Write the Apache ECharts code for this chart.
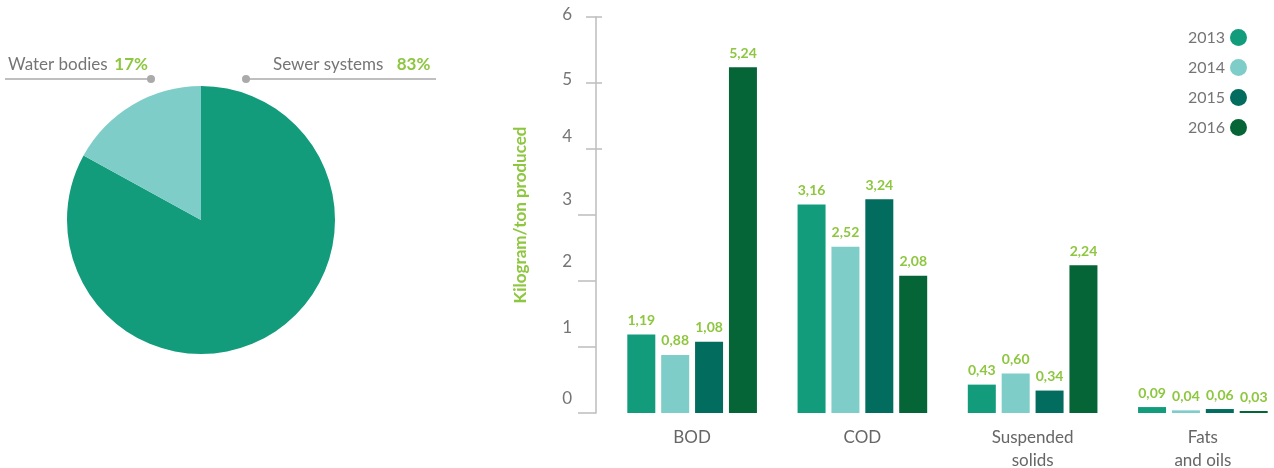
<!DOCTYPE html>
<html>
<head>
<meta charset="utf-8">
<script src="https://cdn.jsdelivr.net/npm/echarts@6/dist/echarts.min.js"></script>
<style>
  html, body { margin: 0; padding: 0; background: #fff; overflow: hidden; }
  #chart { width: 1274px; height: 468px; }
</style>
</head>
<body>
<div id="chart"></div>
<script>
// Destination of waste water (share)
const pieNames = ['Sewer systems', 'Water bodies'];
const pieValues = [83, 17];

// Pollutant load per ton produced
const categories = ['BOD', 'COD', 'Suspended\nsolids', 'Fats\nand oils'];
const years = ['2013', '2014', '2015', '2016'];
const values2013 = [1.19, 3.16, 0.43, 0.09];
const values2014 = [0.88, 2.52, 0.60, 0.04];
const values2015 = [1.08, 3.24, 0.34, 0.06];
const values2016 = [5.24, 2.08, 2.24, 0.03];
const yTicks = [0, 1, 2, 3, 4, 5, 6];

const yearColors = ['#129c7c', '#7ecdc8', '#026c5f', '#066536'];
const green = '#8dc63f';
const grey = '#757575';
const font = 'Lato, "Open Sans", sans-serif';

const chart = echarts.init(document.getElementById('chart'));

const seriesValues = [values2013, values2014, values2015, values2016];
const barSeries = years.map((y, i) => ({
  name: y,
  type: 'bar',
  barWidth: 28,
  barGap: '21%',
  itemStyle: { color: yearColors[i] },
  label: {
    show: true,
    position: 'top',
    distance: 7,
    color: green,
    fontFamily: font,
    fontWeight: 'bold',
    fontSize: 14,
    formatter: p => p.value.toFixed(2).replace('.', ',')
  },
  data: seriesValues[i]
}));

// Callout texts above the pie
const water = pieNames.indexOf('Water bodies');
const sewer = pieNames.indexOf('Sewer systems');
const calloutRich = {
  n: { fontFamily: font, fontSize: 17, fill: grey },
  p: { fontFamily: font, fontSize: 17, fill: green, fontWeight: 'bold' }
};

// Tick labels sit a little above their tick marks; each gets its own line box
const tickLift = { 0: 28, 1: 38, 2: 38, 3: 30, 4: 24, 5: 6, 6: 4 };
const tickRich = {};
yTicks.forEach(v => {
  tickRich['t' + v] = { fontFamily: font, fontSize: 17, color: grey, lineHeight: tickLift[v] };
});

const baseY = {
  type: 'value', min: yTicks[0], max: yTicks[yTicks.length - 1], interval: 1,
  position: 'left', offset: 11,
  splitLine: { show: false }
};

chart.setOption({
  animation: false,
  legend: {
    data: years,
    orient: 'vertical',
    right: 22,
    top: 24,
    align: 'right',
    icon: 'circle',
    itemWidth: 17,
    itemHeight: 17,
    itemGap: 13,
    textStyle: { fontFamily: font, fontSize: 16, color: grey }
  },
  grid: { left: 607, top: 17, width: 681, height: 396, outerBoundsMode: 'none' },
  xAxis: {
    type: 'category',
    data: categories,
    axisLine: { show: false },
    axisTick: { show: false },
    axisLabel: {
      fontFamily: font, fontSize: 17, color: '#666', lineHeight: 23, margin: 13
    }
  },
  yAxis: [
    Object.assign({}, baseY, {
      name: 'Kilogram/ton produced',
      nameLocation: 'middle',
      nameGap: 67,
      nameTextStyle: { fontFamily: font, fontSize: 17, fontWeight: 'bold', color: green },
      axisLine: { show: true, lineStyle: { color: '#bdbdbd', width: 1.5 } },
      axisTick: { show: true, customValues: [0, 1, 2, 3], length: 18, lineStyle: { color: '#bdbdbd', width: 1.5 } },
      axisLabel: {
        margin: 24,
        verticalAlign: 'bottom',
        formatter: v => '{t' + v + '|' + v + '}',
        rich: tickRich
      }
    }),
    Object.assign({}, baseY, {
      axisLine: { show: false },
      axisLabel: { show: false },
      axisTick: { show: true, customValues: [4, 5, 6], length: 10, lineStyle: { color: '#bdbdbd', width: 1.5 } }
    }),
    Object.assign({}, baseY, {
      axisLine: { show: false },
      axisLabel: { show: false },
      axisTick: { show: true, inside: true, customValues: [4, 5, 6], length: 6, lineStyle: { color: '#bdbdbd', width: 1.5 } }
    })
  ],
  series: [
    {
      type: 'pie',
      center: [201, 220],
      radius: 134,
      startAngle: 90,
      clockwise: true,
      label: { show: false },
      labelLine: { show: false },
      silent: true,
      data: pieNames.map((n, i) => ({
        name: n, value: pieValues[i],
        itemStyle: { color: i === sewer ? yearColors[0] : yearColors[1] }
      }))
    }
  ].concat(barSeries),
  graphic: [
    { type: 'line', shape: { x1: 5, y1: 79, x2: 151, y2: 79 }, style: { stroke: '#aaa', lineWidth: 1.5 } },
    { type: 'circle', shape: { cx: 151, cy: 79, r: 4 }, style: { fill: '#aaa' } },
    { type: 'line', shape: { x1: 246, y1: 79, x2: 436, y2: 79 }, style: { stroke: '#aaa', lineWidth: 1.5 } },
    { type: 'circle', shape: { cx: 246, cy: 79, r: 4 }, style: { fill: '#aaa' } },
    {
      type: 'text', left: 8, top: 56,
      style: {
        text: '{n|' + pieNames[water] + '}  {p|' + pieValues[water] + '%}',
        rich: calloutRich
      }
    },
    {
      type: 'text', left: 273, top: 56,
      style: {
        text: '{n|' + pieNames[sewer] + '}    {p|' + pieValues[sewer] + '%}',
        rich: calloutRich
      }
    }
  ]
});
</script>
</body>
</html>
